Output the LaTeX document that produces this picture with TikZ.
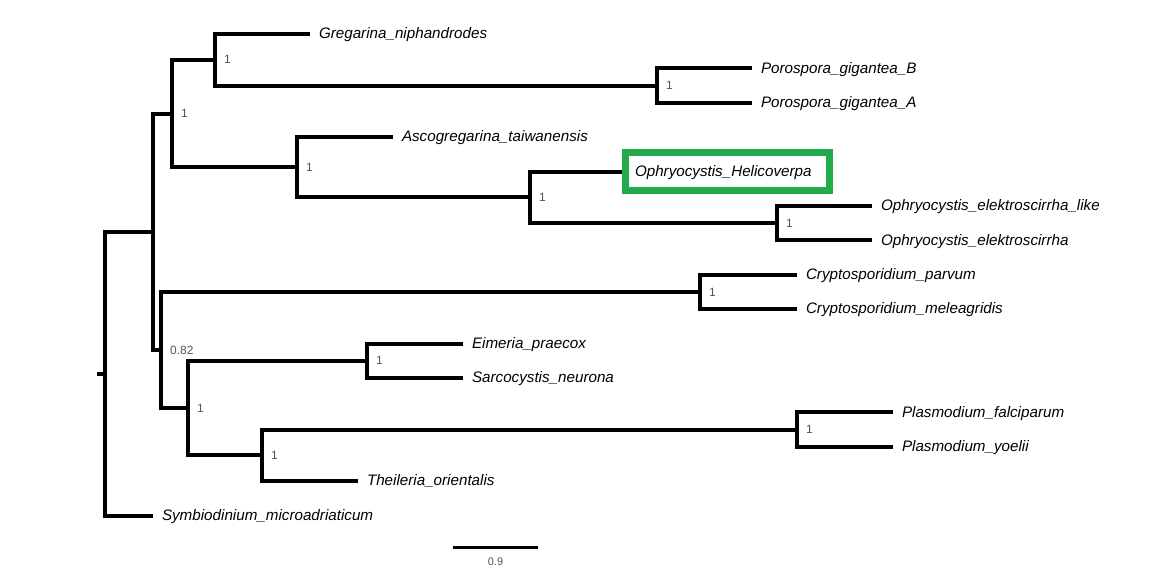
\documentclass[tikz,border=0pt]{standalone}
\usepackage{xcolor}
\usepackage{fontspec}
\setmainfont{Liberation Sans}
\usepackage{tikz}
\usetikzlibrary{math}
\definecolor{hlgreen}{RGB}{34,170,75}
\definecolor{suppgray}{RGB}{85,85,85}

\begin{document}
\begin{tikzpicture}[x=1pt,y=-1pt,
	branch/.style={line width=4pt},
	tip/.style={anchor=west,inner xsep=9pt,inner ysep=0pt,outer sep=0pt,
		text height=9.5pt,text depth=0pt,font=\fontsize{15.2}{18}\selectfont\itshape},
	supp/.style={anchor=west,inner sep=0pt,xshift=9pt,text=suppgray,
		font=\fontsize{12}{14}\selectfont}]
\useasboundingbox (0,0) rectangle (1149,577);
\tikzmath{
	\h = 34.4;\yt = 34;
	\yPor = \yt+1.5*\h;\yC = (\yt+\yPor)/2;
	\yF = \yt+5.5*\h;\yE = (\yt+4*\h+\yF)/2;\yD = (\yt+3*\h+\yE)/2;
	\yB = (\yC+\yD)/2;
	\yCr = \yt+7.5*\h;\yEi = \yt+9.5*\h;\yPl = \yt+11.5*\h;
	\yI = (\yPl+\yt+13*\h)/2;\yH = (\yEi+\yI)/2;\yG = (\yCr+\yH)/2;
	\yA = (\yB+\yG)/2;\yR = (\yA+\yt+14*\h)/2;
	% tips
	{\node[tip] (t1) at (310,\yt) {Gregarina\_niphandrodes};};
	{\node[tip] (t2) at (752,\yt+\h) {Porospora\_gigantea\_B};};
	{\node[tip] (t3) at (752,\yt+2*\h) {Porospora\_gigantea\_A};};
	{\node[tip] (t4) at (393,\yt+3*\h) {Ascogregarina\_taiwanensis};};
	{\node[tip,draw=hlgreen,line width=7pt,outer sep=3.5pt,inner xsep=9.5pt,
		inner ysep=14pt,text width=185pt,align=left] (t5) at (622,\yt+4*\h) {Ophryocystis\_Helicoverpa};};
	{\node[tip] (t6) at (872,\yt+5*\h) {Ophryocystis\_elektroscirrha\_like};};
	{\node[tip] (t7) at (872,\yt+6*\h) {Ophryocystis\_elektroscirrha};};
	{\node[tip] (t8) at (797,\yt+7*\h) {Cryptosporidium\_parvum};};
	{\node[tip] (t9) at (797,\yt+8*\h) {Cryptosporidium\_meleagridis};};
	{\node[tip] (t10) at (463,\yt+9*\h) {Eimeria\_praecox};};
	{\node[tip] (t11) at (463,\yt+10*\h) {Sarcocystis\_neurona};};
	{\node[tip] (t12) at (893,\yt+11*\h) {Plasmodium\_falciparum};};
	{\node[tip] (t13) at (893,\yt+12*\h) {Plasmodium\_yoelii};};
	{\node[tip] (t14) at (358,\yt+13*\h) {Theileria\_orientalis};};
	{\node[tip] (t15) at (153,\yt+14*\h) {Symbiodinium\_microadriaticum};};
	% inner nodes
	{\coordinate (r0) at (97,\yR);};
	{\coordinate (r) at (105,\yR);};
	{\coordinate (a) at (153,\yA);};
	{\coordinate (b) at (172,\yB);};
	{\coordinate (c) at (215,\yC);};
	{\coordinate (por) at (657,\yPor);};
	{\coordinate (d) at (297,\yD);};
	{\coordinate (e) at (530,\yE);};
	{\coordinate (f) at (777,\yF);};
	{\coordinate (g) at (161,\yG);};
	{\coordinate (cr) at (700,\yCr);};
	{\coordinate (hh) at (188,\yH);};
	{\coordinate (ei) at (367,\yEi);};
	{\coordinate (ii) at (262,\yI);};
	{\coordinate (pl) at (797,\yPl);};
	% branches
	{\draw[branch] (r0) -- (r);};
	{\draw[branch] (r) |- (a);};
	{\draw[branch] (r) |- (t15.west);};
	{\draw[branch] (a) |- (b);};
	{\draw[branch] (a) |- (g);};
	{\draw[branch] (b) |- (c);};
	{\draw[branch] (b) |- (d);};
	{\draw[branch] (c) |- (t1.west);};
	{\draw[branch] (c) |- (por);};
	{\draw[branch] (por) |- (t2.west);};
	{\draw[branch] (por) |- (t3.west);};
	{\draw[branch] (d) |- (t4.west);};
	{\draw[branch] (d) |- (e);};
	{\draw[branch] (e) |- (t5.west);};
	{\draw[branch] (e) |- (f);};
	{\draw[branch] (f) |- (t6.west);};
	{\draw[branch] (f) |- (t7.west);};
	{\draw[branch] (g) |- (cr);};
	{\draw[branch] (g) |- (hh);};
	{\draw[branch] (cr) |- (t8.west);};
	{\draw[branch] (cr) |- (t9.west);};
	{\draw[branch] (hh) |- (ei);};
	{\draw[branch] (hh) |- (ii);};
	{\draw[branch] (ei) |- (t10.west);};
	{\draw[branch] (ei) |- (t11.west);};
	{\draw[branch] (ii) |- (pl);};
	{\draw[branch] (ii) |- (t14.west);};
	{\draw[branch] (pl) |- (t12.west);};
	{\draw[branch] (pl) |- (t13.west);};
	% support values
	{\path (b) node[supp] (sb) {1};};
	{\path (c) node[supp] (sc) {1};};
	{\path (por) node[supp] (spor) {1};};
	{\path (d) node[supp] (sd) {1};};
	{\path (e) node[supp] (se) {1};};
	{\path (f) node[supp] (sf) {1};};
	{\path (g) node[supp] (sg) {0.82};};
	{\path (cr) node[supp] (scr) {1};};
	{\path (hh) node[supp] (shh) {1};};
	{\path (ei) node[supp] (sei) {1};};
	{\path (ii) node[supp] (sii) {1};};
	{\path (pl) node[supp] (spl) {1};};
	% scale bar
	{\coordinate (sb1) at (453,547);};
	{\coordinate (sb2) at (538,547);};
	{\draw[line width=3pt] (sb1) -- (sb2) node[midway,yshift=-15pt,text=suppgray,
		font=\fontsize{11}{13}\selectfont] (sbl) {0.9};};
};
\end{tikzpicture}
\end{document}
